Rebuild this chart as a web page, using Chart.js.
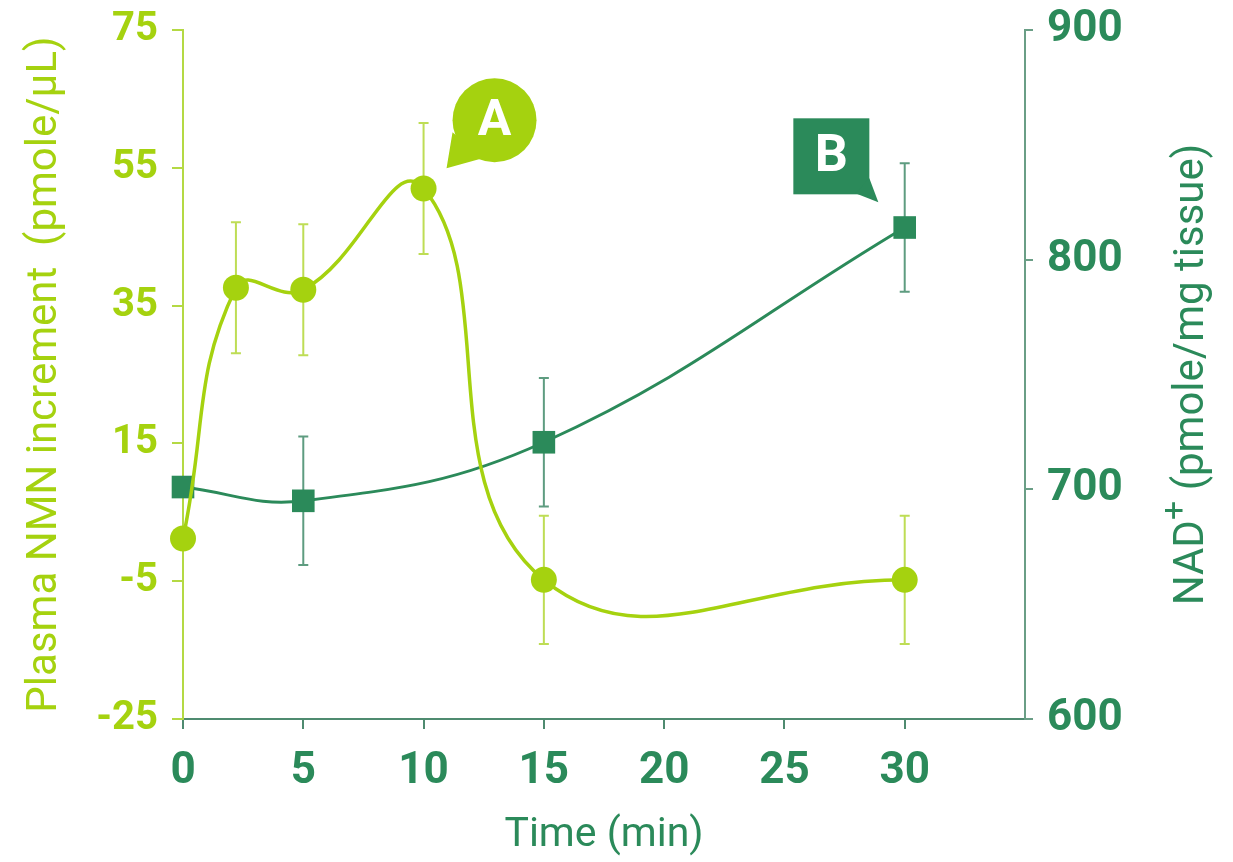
<!DOCTYPE html>
<html>
<head>
<meta charset="utf-8">
<script src="https://cdn.jsdelivr.net/npm/chart.js@4.4.1/dist/chart.umd.min.js"></script>
<style>
  html, body { margin: 0; padding: 0; background: #ffffff; }
  #wrap { width: 1233px; height: 862px; }
</style>
</head>
<body>
<div id="wrap"><canvas id="nmnChart" width="1233" height="862"></canvas></div>
<script>
// Plasma NMN increment (left axis)
const nmnTime = [0, 2.2, 5, 10, 15, 30];
const nmnValue = [1.2, 37.6, 37.3, 52.0, -4.8, -4.8];
const nmnErr = [0, 9.5, 9.5, 9.5, 9.3, 9.3];

// NAD+ in tissue (right axis)
const nadTime = [0, 5, 15, 30];
const nadValue = [701, 695, 720.5, 814];
const nadErr = [0, 28, 28, 28];

// tick labels
const timeTicks = [0, 5, 10, 15, 20, 25, 30];
const nmnTicks = [-25, -5, 15, 35, 55, 75];
const nadTicks = [600, 700, 800, 900];

const colors = {
    light: '#a5d20f',
    lightErr: '#bedd55',
    dark: '#2b8a5a',
    darkErr: '#5e9c80',
    xAxis: '#4f8b70',
    rightAxis: '#6a9e86',
    leftAxis: '#b4d944'
};
const FONT = "Roboto, 'Liberation Sans', sans-serif";

// error bars, drawn under the markers
const errorBars = {
    id: 'errorBars',
    beforeDatasetsDraw(chart) {
        const ctx = chart.ctx;
        const x = chart.scales.x;
        const sets = [
            { t: nmnTime, v: nmnValue, e: nmnErr, y: chart.scales.y, c: colors.lightErr },
            { t: nadTime, v: nadValue, e: nadErr, y: chart.scales.y1, c: colors.darkErr }
        ];
        ctx.save();
        ctx.lineWidth = 2;
        sets.forEach(s => {
            ctx.strokeStyle = s.c;
            s.t.forEach((t, i) => {
                if (!s.e[i]) return;
                const px = x.getPixelForValue(t);
                const top = s.y.getPixelForValue(s.v[i] + s.e[i]);
                const bot = s.y.getPixelForValue(s.v[i] - s.e[i]);
                ctx.beginPath();
                ctx.moveTo(px, top); ctx.lineTo(px, bot);
                ctx.moveTo(px - 5, top); ctx.lineTo(px + 5, top);
                ctx.moveTo(px - 5, bot); ctx.lineTo(px + 5, bot);
                ctx.stroke();
            });
        });
        ctx.restore();
    }
};

// right axis title with superscript and the A / B callouts
const extras = {
    id: 'extras',
    afterDraw(chart) {
        const ctx = chart.ctx;
        const x = chart.scales.x, y = chart.scales.y, y1 = chart.scales.y1;
        ctx.save();

        // right title
        const midY = (chart.chartArea.top + chart.chartArea.bottom) / 2;
        ctx.translate(1192, midY);
        ctx.rotate(-Math.PI / 2);
        ctx.fillStyle = colors.dark;
        ctx.textBaseline = 'middle';
        const main = '42px ' + FONT, sup = '34px ' + FONT;
        ctx.font = main;
        const wNad = ctx.measureText('NAD').width;
        const wRest = ctx.measureText(' (pmole/mg tissue)').width;
        ctx.font = sup;
        const wPlus = ctx.measureText('+').width;
        let cx = -(wNad + wPlus + wRest) / 2;
        ctx.font = main;
        ctx.textAlign = 'left';
        ctx.fillText('NAD', cx, 0);
        cx += wNad;
        ctx.font = sup;
        ctx.fillText('+', cx, -16);
        cx += wPlus;
        ctx.font = main;
        ctx.fillText(' (pmole/mg tissue)', cx, 0);
        ctx.setTransform(1, 0, 0, 1, 0, 0);

        // callout A (round bubble)
        const ax = x.getPixelForValue(12.95), ay = y.getPixelForValue(61.9);
        ctx.fillStyle = colors.light;
        ctx.beginPath();
        ctx.arc(ax, ay, 42, 0, Math.PI * 2);
        ctx.fill();
        ctx.beginPath();
        ctx.moveTo(ax - 42, ay + 12);
        ctx.lineTo(ax - 48, ay + 48);
        ctx.lineTo(ax - 12, ay + 38);
        ctx.closePath();
        ctx.fill();
        ctx.fillStyle = '#ffffff';
        ctx.font = 'bold 50px ' + FONT;
        ctx.textAlign = 'center';
        ctx.textBaseline = 'middle';
        ctx.fillText('A', ax, ay + 2);

        // callout B (square bubble)
        const bx = x.getPixelForValue(26.95), by = y1.getPixelForValue(845);
        ctx.fillStyle = colors.dark;
        ctx.fillRect(bx - 38, by - 38, 76, 76);
        ctx.beginPath();
        ctx.moveTo(bx + 24, by + 37);
        ctx.lineTo(bx + 47, by + 46);
        ctx.lineTo(bx + 38, by + 22);
        ctx.closePath();
        ctx.fill();
        ctx.fillStyle = '#ffffff';
        ctx.font = 'bold 52px ' + FONT;
        ctx.fillText('B', bx, by + 2);
        ctx.restore();
    }
};

// fixed axis boxes so the plot area sits where the reference has it
const fixY = w => s => { s.width = w; s.paddingTop = 0; s.paddingBottom = 0; };

new Chart(document.getElementById('nmnChart'), {
    type: 'line',
    data: {
        datasets: [
            {
                label: 'Plasma NMN',
                data: nmnTime.map((t, i) => ({ x: t, y: nmnValue[i] })),
                yAxisID: 'y',
                borderColor: colors.light,
                backgroundColor: colors.light,
                borderWidth: 3.5,
                tension: 0.45,
                pointStyle: 'circle',
                pointRadius: 13,
                pointBorderWidth: 0,
                clip: false
            },
            {
                label: 'NAD+',
                data: nadTime.map((t, i) => ({ x: t, y: nadValue[i] })),
                yAxisID: 'y1',
                borderColor: colors.dark,
                backgroundColor: colors.dark,
                borderWidth: 3,
                tension: 0.4,
                pointStyle: 'rect',
                pointRadius: 16,
                pointBorderWidth: 0,
                clip: false
            }
        ]
    },
    options: {
        responsive: false,
        animation: false,
        layout: { padding: { top: 30, left: 0, right: 0, bottom: 0 } },
        plugins: { legend: { display: false }, tooltip: { enabled: false } },
        scales: {
            x: {
                type: 'linear',
                position: 'bottom',
                min: 0,
                max: 35,
                afterBuildTicks: s => { s.ticks = timeTicks.map(v => ({ value: v })); },
                afterFit: s => { s.height = 143; s.paddingLeft = 0; s.paddingRight = 0; },
                border: { color: colors.xAxis, width: 2 },
                grid: { drawOnChartArea: false, drawTicks: true, tickLength: 10, color: colors.xAxis, lineWidth: 2 },
                ticks: { color: colors.dark, padding: 17, font: { family: FONT, size: 44, weight: 'bold' } },
                title: {
                    display: true,
                    text: 'Time (min)',
                    color: colors.dark,
                    padding: { top: 0, bottom: 2 },
                    font: { family: FONT, size: 41 }
                }
            },
            y: {
                position: 'left',
                min: -25,
                max: 75,
                afterBuildTicks: s => { s.ticks = nmnTicks.map(v => ({ value: v })); },
                afterFit: fixY(183),
                border: { color: colors.leftAxis, width: 2 },
                grid: { drawOnChartArea: false, drawTicks: true, tickLength: 11, color: colors.leftAxis, lineWidth: 2 },
                ticks: { color: colors.light, padding: 14, font: { family: FONT, size: 40, weight: 'bold' } },
                title: {
                    display: true,
                    text: 'Plasma NMN increment  (pmole/\u00b5L)',
                    color: colors.light,
                    padding: { top: 20, bottom: 0 },
                    font: { family: FONT, size: 42 }
                }
            },
            y1: {
                position: 'right',
                min: 600,
                max: 900,
                afterBuildTicks: s => { s.ticks = nadTicks.map(v => ({ value: v })); },
                afterFit: fixY(208),
                border: { color: colors.rightAxis, width: 2 },
                grid: { drawOnChartArea: false, drawTicks: true, tickLength: 8, color: colors.rightAxis, lineWidth: 2 },
                ticks: { color: colors.dark, padding: 14, font: { family: FONT, size: 44, weight: 'bold' } }
            }
        }
    },
    plugins: [errorBars, extras]
});
</script>
</body>
</html>
